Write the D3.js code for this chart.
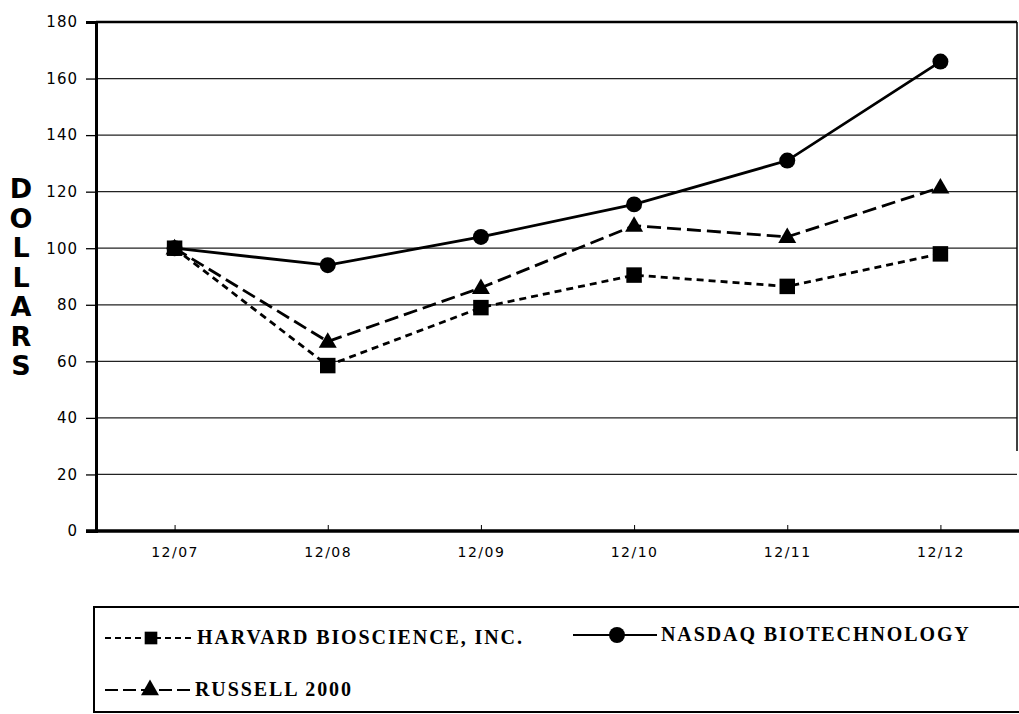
<!doctype html>
<html>
<head>
    <style>
        body { margin: 0; background: #fff; }
        #chart text { fill: #000; }
        .axis-label { font-family: "DejaVu Sans", sans-serif; font-size: 15px; letter-spacing: 1px; }
        .cat-label { font-family: "DejaVu Sans", sans-serif; font-size: 14px; letter-spacing: 1.5px; }
        .ytitle { font-family: "DejaVu Sans", sans-serif; font-size: 27px; font-weight: bold; }
        .legend-text { font-family: "Liberation Serif", serif; font-size: 20px; font-weight: bold; letter-spacing: 1.9px; }
        path.line { fill: none; stroke: #000; stroke-width: 2.8; }
        path.line.harvard { stroke-dasharray: 7 5; }
        path.line.russell { stroke-dasharray: 14 6; }
    </style>
</head>
<body>
    <svg id="chart"></svg>
    <script src="https://cdnjs.cloudflare.com/ajax/libs/d3/7.8.5/d3.min.js"></script>
    <script>
        var categories = ['12/07', '12/08', '12/09', '12/10', '12/11', '12/12'];
        var harvard = [100, 58.5, 79, 90.5, 86.5, 98];
        var nasdaq = [100, 94, 104, 115.5, 131, 166];
        var russell = [100, 67, 86, 108, 104, 121.5];
        var yTicks = [0, 20, 40, 60, 80, 100, 120, 140, 160, 180];
        var titleLetters = ['D', 'O', 'L', 'L', 'A', 'R', 'S'];

        var width = 1019, height = 714;
        var plotLeft = 96, plotRight = 1017, plotTop = 22, plotBottom = 531;

        var svg = d3.select('#chart').attr('width', width).attr('height', height);

        var x = d3.scalePoint().domain(categories).range([plotLeft + 2, plotRight]).padding(0.5);
        var y = d3.scaleLinear().domain([0, 180]).range([plotBottom, plotTop]);

        // grid
        svg.append('g').selectAll('line').data(yTicks.slice(1)).enter().append('line')
                .attr('x1', plotLeft).attr('x2', plotRight)
                .attr('y1', function(d) { return y(d) }).attr('y2', function(d) { return y(d) })
                .attr('stroke', '#222').attr('stroke-width', 1.3);

        // frame
        svg.append('line').attr('x1', plotLeft).attr('x2', plotRight).attr('y1', plotTop).attr('y2', plotTop)
                .attr('stroke', '#000').attr('stroke-width', 2.5);
        svg.append('line').attr('x1', plotRight).attr('x2', plotRight).attr('y1', plotTop).attr('y2', plotBottom - 80)
                .attr('stroke', '#000').attr('stroke-width', 1.5);

        // y axis
        var yAxis = svg.append('g').attr('transform', 'translate(' + plotLeft + ',0)')
                .call(d3.axisLeft(y).tickValues(yTicks).tickSize(10).tickPadding(8));
        yAxis.select('.domain').attr('stroke-width', 3);
        yAxis.selectAll('line').attr('stroke-width', 1.3);
        yAxis.selectAll('text').attr('class', 'axis-label').attr('font-family', null).attr('font-size', null);

        // x axis
        var xAxis = svg.append('g').attr('transform', 'translate(0,' + plotBottom + ')')
                .call(d3.axisBottom(x).tickSize(-6).tickSizeOuter(0).tickPadding(16));
        xAxis.select('.domain').attr('d', 'M' + (plotLeft - 10) + ',0H' + (plotRight + 2)).attr('stroke-width', 3.5);
        xAxis.selectAll('text').attr('class', 'cat-label').attr('font-family', null).attr('font-size', null);

        // y title
        svg.append('g').selectAll('text').data(titleLetters).enter().append('text')
                .attr('class', 'ytitle')
                .attr('x', 21).attr('y', function(d, i) { return 198 + i * 29.5 })
                .attr('text-anchor', 'middle')
                .text(function(d) { return d });

        var liner = d3.line()
                .x(function(d, i) { return x(categories[i]) })
                .y(function(d) { return y(d) });

        var square = d3.symbol().type(d3.symbolSquare).size(240);
        var circle = d3.symbol().type(d3.symbolCircle).size(200);
        var triangle = d3.symbol().type(d3.symbolTriangle).size(140);

        var series = [
            { name: 'russell', data: russell, sym: triangle },
            { name: 'harvard', data: harvard, sym: square },
            { name: 'nasdaq', data: nasdaq, sym: circle }
        ];

        series.forEach(function(s) {
            svg.append('path').attr('class', 'line ' + s.name).attr('d', liner(s.data));
            svg.append('g').selectAll('path').data(s.data).enter().append('path')
                    .attr('d', s.sym)
                    .attr('transform', function(d, i) {
                        return 'translate(' + x(categories[i]) + ',' + (y(d) + (s.sym === triangle ? 1 : 0)) + ')';
                    })
                    .attr('fill', '#000');
        });

        // legend
        var lg = svg.append('g');
        lg.append('rect').attr('x', 94).attr('y', 607).attr('width', 960).attr('height', 105)
                .attr('fill', 'none').attr('stroke', '#000').attr('stroke-width', 2);

        var legendItems = [
            { name: 'harvard', label: 'HARVARD BIOSCIENCE, INC.', size: 160, type: d3.symbolSquare, lx: 105, ly: 638, w: 88 },
            { name: 'nasdaq', label: 'NASDAQ BIOTECHNOLOGY', size: 200, type: d3.symbolCircle, lx: 573, ly: 635, w: 84 },
            { name: 'russell', label: 'RUSSELL 2000', size: 140, type: d3.symbolTriangle, lx: 105, ly: 690, w: 86 }
        ];
        legendItems.forEach(function(it) {
            lg.append('line')
                    .attr('x1', it.lx).attr('x2', it.lx + it.w).attr('y1', it.ly).attr('y2', it.ly)
                    .attr('stroke', '#000').attr('stroke-width', 2.2)
                    .attr('stroke-dasharray', it.name === 'harvard' ? '6 4' : it.name === 'russell' ? '13 5' : null);
            lg.append('path').attr('d', d3.symbol().type(it.type).size(it.size)())
                    .attr('transform', 'translate(' + (it.lx + it.w / 2 + 2) + ',' + it.ly + ')')
                    .attr('fill', '#000');
            lg.append('text').attr('class', 'legend-text')
                    .attr('x', it.lx + it.w + 4).attr('y', it.ly + 6)
                    .text(it.label);
        });
    </script>
</body>
</html>
